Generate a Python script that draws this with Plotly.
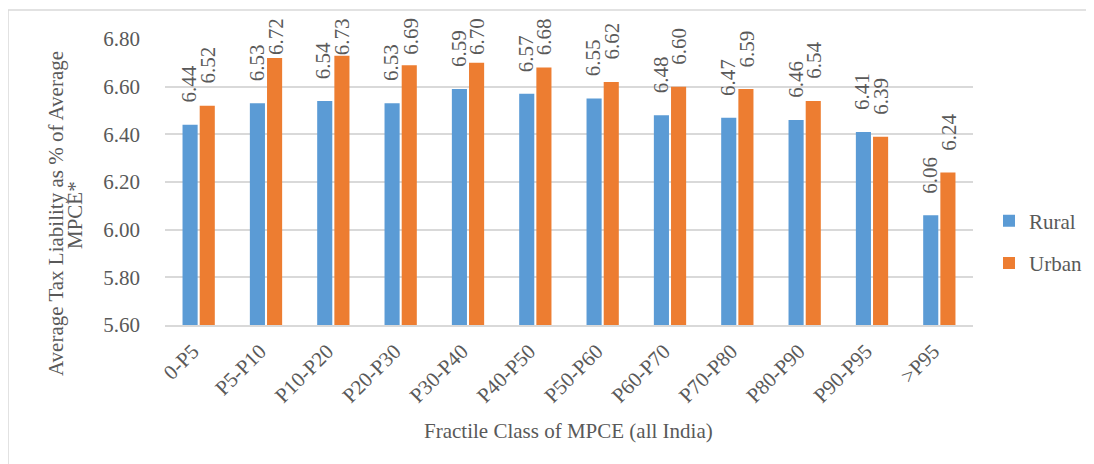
import plotly.graph_objects as go

categories = ["0-P5", "P5-P10", "P10-P20", "P20-P30", "P30-P40", "P40-P50",
              "P50-P60", "P60-P70", "P70-P80", "P80-P90", "P90-P95", ">P95"]
rural = [6.44, 6.53, 6.54, 6.53, 6.59, 6.57, 6.55, 6.48, 6.47, 6.46, 6.41, 6.06]
urban = [6.52, 6.72, 6.73, 6.69, 6.70, 6.68, 6.62, 6.60, 6.59, 6.54, 6.39, 6.24]
y_ticks = [5.6, 5.8, 6.0, 6.2, 6.4, 6.6, 6.8]
Y_RANGE = [5.6, 6.8]

FONT = "Liberation Serif"
TXT = "#595959"
FS = 21

W, H = 1094, 464
OFF = 8  # page body margin
L, T = 165 - OFF, 39 - OFF
PR, PB = 973 - OFF, 325 - OFF
R, B = W - PR, H - PB
pw, ph = PR - L, PB - T
UPP = (Y_RANGE[1] - Y_RANGE[0]) / ph  # data units per pixel

def px_x(x):  # reference pixel -> paper
    return (x - OFF - L) / pw

def px_y(y):
    return (PB - (y - OFF)) / ph

fig = go.Figure()
series = [("Rural", rural, "#5B9BD5", -9.5), ("Urban", urban, "#ED7D31", 9.5)]
annotations = []
LABEL_LEN = 37   # rendered length of a rotated label, px
GAP = 21         # gap between bar end and label
TOP_LIMIT = 19 - OFF  # labels kept inside chart area (figure px)
for name, vals, col, xs in series:
    fig.add_trace(go.Bar(
        x=categories, y=vals, name=name, legendgroup=name,
        marker=dict(color=col, line=dict(width=0)),
    ))
    for c, v in zip(categories, vals):
        bar_top = T + (Y_RANGE[1] - v) / UPP
        gap = min(GAP, bar_top - TOP_LIMIT - LABEL_LEN)
        annotations.append(dict(
            x=c, y=v, xref="x", yref="y", text=f"{v:.2f}",
            showarrow=False, textangle=-90, xanchor="center", yanchor="bottom",
            xshift=xs, yshift=gap, borderpad=0,
            font=dict(family=FONT, size=FS, color=TXT)))

ann = dict(xref="paper", yref="paper", showarrow=False,
           font=dict(family=FONT, size=FS, color=TXT))
annotations += [
    dict(text="Average Tax Liability as % of Average", x=px_x(56), y=px_y(214),
         textangle=-90, xanchor="center", yanchor="middle", **ann),
    dict(text="MPCE*", x=px_x(75), y=px_y(215),
         textangle=-90, xanchor="center", yanchor="middle", **ann),
    dict(text="Fractile Class of MPCE (all India)", x=px_x(568), y=px_y(431),
         xanchor="center", yanchor="middle", **ann),
]

fig.update_layout(
    width=W, height=H,
    margin=dict(l=L, r=R, t=T, b=B, autoexpand=False),
    paper_bgcolor="white", plot_bgcolor="white",
    font=dict(family=FONT, color=TXT, size=FS),
    barmode="group", bargap=0.49, bargroupgap=0.12,
    showlegend=True,
    legend=dict(x=px_x(989), y=px_y(242), xanchor="left", yanchor="middle",
                font=dict(family=FONT, size=FS, color=TXT),
                tracegroupgap=12, traceorder="grouped",
                bgcolor="rgba(0,0,0,0)"),
    shapes=[dict(type="rect", xref="paper", yref="paper",
                 x0=px_x(8), x1=px_x(1088), y0=px_y(480), y1=px_y(10),
                 line=dict(color="#D9D9D9", width=1.5), fillcolor="rgba(0,0,0,0)",
                 layer="below")],
    annotations=annotations,
)
fig.update_yaxes(
    range=Y_RANGE, tickvals=y_ticks, tickformat=".2f",
    showgrid=True, gridcolor="#D9D9D9", gridwidth=1.5,
    zeroline=False, showline=False, ticks="",
    ticklabelstandoff=24,
    tickfont=dict(family=FONT, size=FS, color=TXT),
)
fig.update_xaxes(
    showline=True, linecolor="#D9D9D9", linewidth=1.5, ticks="",
    tickangle=-45, ticklabelstandoff=4, ticklabelshift=-6,
    tickfont=dict(family=FONT, size=FS, color=TXT),
)

fig.write_html("out.html")
